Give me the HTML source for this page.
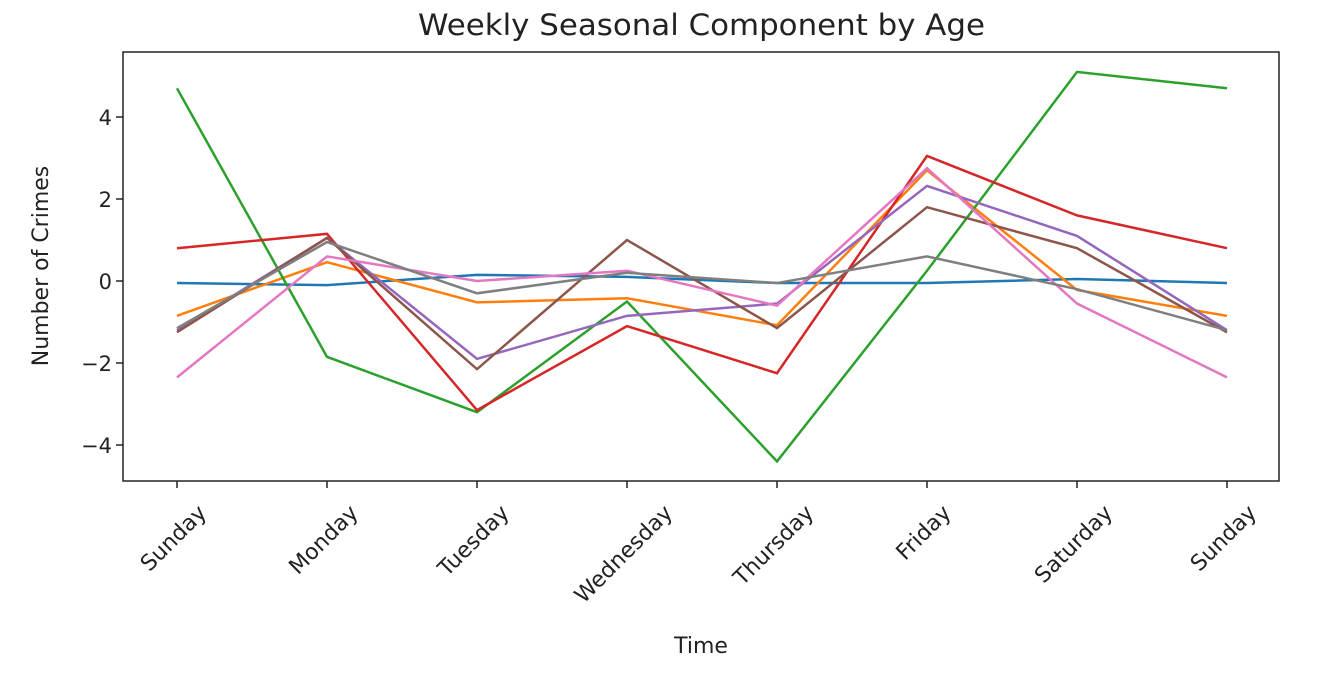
<!DOCTYPE html>
<html><head><meta charset="utf-8"><style>
html,body{margin:0;padding:0;background:#fff;}
svg text{font-family:"DejaVu Sans","Liberation Sans",sans-serif;fill:#222;}
</style></head><body>
<svg id="chart" width="1339" height="673" viewBox="0 0 1339 673">
<text x="418" y="35" font-size="29" textLength="567" lengthAdjust="spacingAndGlyphs">Weekly Seasonal Component by Age</text>
<text x="701" y="653" text-anchor="middle" font-size="22">Time</text>
<text transform="translate(48,266) rotate(-90)" text-anchor="middle" font-size="22">Number of Crimes</text>
<g id="series"></g>
<g id="axes"></g>
<rect x="123" y="52" width="1156" height="429" fill="none" stroke="#222" stroke-width="1.5"/>
</svg>
<script>
const categories = ["Sunday","Monday","Tuesday","Wednesday","Thursday","Friday","Saturday","Sunday"];
const yTicks = [4,2,0,-2,-4];
const yTickLabels = ["4","2","0","\u22122","\u22124"];
const colors = ["#1f77b4","#ff7f0e","#2ca02c","#d62728","#9467bd","#8c564b","#e377c2","#7f7f7f"];
const s0 = [-0.05,-0.1,0.15,0.1,-0.05,-0.05,0.05,-0.05];
const s1 = [-0.85,0.46,-0.52,-0.42,-1.08,2.7,-0.22,-0.85];
const s2 = [4.7,-1.85,-3.2,-0.5,-4.4,0.25,5.1,4.7];
const s3 = [0.8,1.15,-3.15,-1.1,-2.25,3.05,1.6,0.8];
const s4 = [-1.2,1.05,-1.9,-0.85,-0.55,2.32,1.1,-1.2];
const s5 = [-1.25,1.05,-2.15,1.0,-1.15,1.8,0.8,-1.25];
const s6 = [-2.35,0.6,0.0,0.25,-0.6,2.75,-0.55,-2.35];
const s7 = [-1.15,0.95,-0.3,0.2,-0.05,0.6,-0.2,-1.2];
const seriesList = [s0,s1,s2,s3,s4,s5,s6,s7];

const NS = "http://www.w3.org/2000/svg";
function xPos(i){ return 177 + i*(1227-177)/(categories.length-1); }
function yPos(v){ return 281 - v*41; }
const sg = document.getElementById('series');
seriesList.forEach((s,k)=>{
  const p = document.createElementNS(NS,'polyline');
  p.setAttribute('points', s.map((v,i)=>xPos(i)+','+yPos(v)).join(' '));
  p.setAttribute('fill','none');
  p.setAttribute('stroke',colors[k]);
  p.setAttribute('stroke-width','2.5');
  
  
  sg.appendChild(p);
});
const ax = document.getElementById('axes');
yTicks.forEach((t,i)=>{
  const l = document.createElementNS(NS,'line');
  l.setAttribute('x1',116); l.setAttribute('x2',123);
  l.setAttribute('y1',yPos(t)); l.setAttribute('y2',yPos(t));
  l.setAttribute('stroke','#222'); l.setAttribute('stroke-width','1.5');
  
  
  ax.appendChild(l);
  const tx = document.createElementNS(NS,'text');
  tx.setAttribute('x',112); tx.setAttribute('y',yPos(t)+8);
  tx.setAttribute('text-anchor','end'); tx.setAttribute('font-size','21');
  tx.textContent = yTickLabels[i];
  
  
  ax.appendChild(tx);
});
categories.forEach((c,i)=>{
  const x = xPos(i);
  const l = document.createElementNS(NS,'line');
  l.setAttribute('x1',x); l.setAttribute('x2',x);
  l.setAttribute('y1',481); l.setAttribute('y2',488);
  l.setAttribute('stroke','#222'); l.setAttribute('stroke-width','1.5');
  
  
  ax.appendChild(l);
  const tx = document.createElementNS(NS,'text');
  tx.setAttribute('x',0); tx.setAttribute('y',8);
  tx.setAttribute('text-anchor','middle'); tx.setAttribute('font-size','22');
  tx.textContent = c;
  
  
  ax.appendChild(tx);
  const w = tx.getComputedTextLength();
  const cy = 500 + (w + 24) * 0.7071 / 2;
  tx.setAttribute('transform','translate('+(x-4)+','+cy+') rotate(-45)');
});
</script>
</body></html>
